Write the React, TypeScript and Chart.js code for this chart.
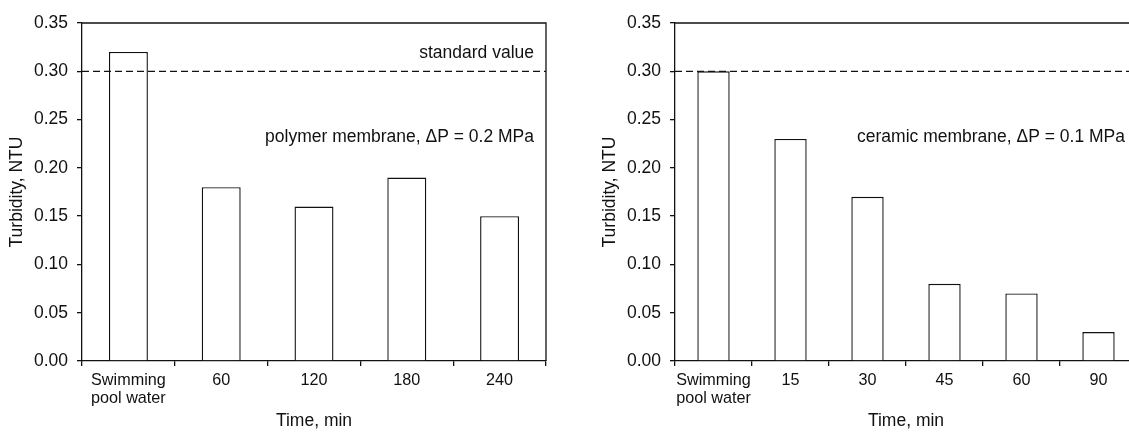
import React, { useEffect, useRef } from "react";
import { Chart, registerables } from "chart.js";

Chart.register(...registerables);

// ---------- data ----------
const leftCategories: (string | string[])[] = [["Swimming", "pool water"], "60", "120", "180", "240"];
const leftValues = [0.32, 0.18, 0.16, 0.19, 0.15];
const rightCategories: (string | string[])[] = [["Swimming", "pool water"], "15", "30", "45", "60", "90"];
const rightValues = [0.3, 0.23, 0.17, 0.08, 0.07, 0.03];
const yMin = 0;
const yMax = 0.35;
const yStep = 0.05;
const standardValue = 0.3;
const standardLabel = "standard value";
const leftNote = "polymer membrane, \u0394P = 0.2 MPa";
const rightNote = "ceramic membrane, \u0394P = 0.1 MPa";
const xTitle = "Time, min";
const yTitle = "Turbidity, NTU";

const FONT = "'Liberation Sans', Arial, Helvetica, sans-serif";
const FS = 17.5;
const FS_X = 16.2;
const INK = "#111";

type PanelProps = {
  categories: (string | string[])[];
  values: number[];
  note: string;
  showStandardLabel: boolean;
  left: number;
  width: number;
  padRight: number;
};

function makeOverlay(note: string, showStandardLabel: boolean) {
  return {
    id: "overlay",
    afterDatasetsDraw(chart: any) {
      const { ctx, chartArea, scales } = chart;
      const y = scales.y.getPixelForValue(standardValue);
      ctx.save();
      ctx.strokeStyle = INK;
      ctx.lineWidth = 1.2;
      ctx.setLineDash([7, 4]);
      ctx.beginPath();
      ctx.moveTo(chartArea.left, y);
      ctx.lineTo(chartArea.right, y);
      ctx.stroke();
      ctx.setLineDash([]);
      // frame top and right
      ctx.lineWidth = 1.3;
      ctx.beginPath();
      ctx.moveTo(chartArea.left, chartArea.top);
      ctx.lineTo(chartArea.right, chartArea.top);
      ctx.lineTo(chartArea.right, chartArea.bottom);
      ctx.stroke();
      // texts
      ctx.fillStyle = INK;
      ctx.font = `${FS}px ${FONT}`;
      ctx.textAlign = "right";
      ctx.textBaseline = "middle";
      if (showStandardLabel) {
        ctx.fillText(standardLabel, chartArea.right - 12, chartArea.top + 30);
      }
      ctx.fillText(note, chartArea.right - 12, chartArea.top + 114);
      ctx.restore();
    },
  };
}

function Panel({ categories, values, note, showStandardLabel, left, width, padRight }: PanelProps) {
  const ref = useRef<HTMLCanvasElement | null>(null);
  useEffect(() => {
    if (!ref.current) return;
    const chart = new Chart(ref.current, {
      type: "bar",
      data: {
        labels: categories as any,
        datasets: [
          {
            data: values,
            backgroundColor: "#fff",
            borderColor: INK,
            borderWidth: 1.4,
            categoryPercentage: 1,
            barPercentage: 0.42,
          },
        ],
      },
      options: {
        animation: false,
        responsive: false,
        devicePixelRatio: 1,
        layout: { padding: { top: 23, right: padRight, left: 0, bottom: 0 } },
        plugins: { legend: { display: false }, tooltip: { enabled: false } },
        scales: {
          x: {
            offset: true,
            grid: {
              display: true,
              offset: true,
              drawOnChartArea: false,
              drawTicks: true,
              tickLength: 5,
              color: INK,
              lineWidth: 1.3,
            },
            border: { display: true, color: INK, width: 1.3 },
            ticks: {
              color: INK,
              font: { family: FONT, size: FS_X, lineHeight: 1.08 },
              padding: 6,
              maxRotation: 0,
              autoSkip: false,
            },
            title: {
              display: true,
              text: xTitle,
              color: INK,
              font: { family: FONT, size: FS },
              padding: { top: 0, bottom: 1 },
            },
            afterFit(scale: any) {
              scale.height = 72;
            },
          },
          y: {
            min: yMin,
            max: yMax,
            grid: {
              display: true,
              drawOnChartArea: false,
              drawTicks: true,
              tickLength: 5,
              color: INK,
              lineWidth: 1.3,
            },
            border: { display: true, color: INK, width: 1.3 },
            ticks: {
              stepSize: yStep,
              color: INK,
              font: { family: FONT, size: FS },
              padding: 9,
              callback: (v: any) => Number(v).toFixed(2),
            },
            title: {
              display: true,
              text: yTitle,
              color: INK,
              font: { family: FONT, size: FS },
              padding: { top: 6.5, bottom: 0 },
            },
            afterFit(scale: any) {
              scale.width = 82;
            },
          },
        },
      },
      plugins: [makeOverlay(note, showStandardLabel)],
    });
    return () => chart.destroy();
  }, []);
  return (
    <div style={{ position: "absolute", left, top: 0, width, height: 433 }}>
      <canvas ref={ref} width={width} height={433} style={{ width, height: 433, display: "block" }} />
    </div>
  );
}

export default function App() {
  return (
    <div
      style={{
        position: "absolute",
        left: 0,
        top: 0,
        width: 1129,
        height: 433,
        overflow: "hidden",
        background: "#fff",
      }}
    >
      <Panel categories={leftCategories} values={leftValues} note={leftNote} showStandardLabel={true} left={0} width={560} padRight={14} />
      <Panel categories={rightCategories} values={rightValues} note={rightNote} showStandardLabel={false} left={593} width={560} padRight={16} />
    </div>
  );
}
